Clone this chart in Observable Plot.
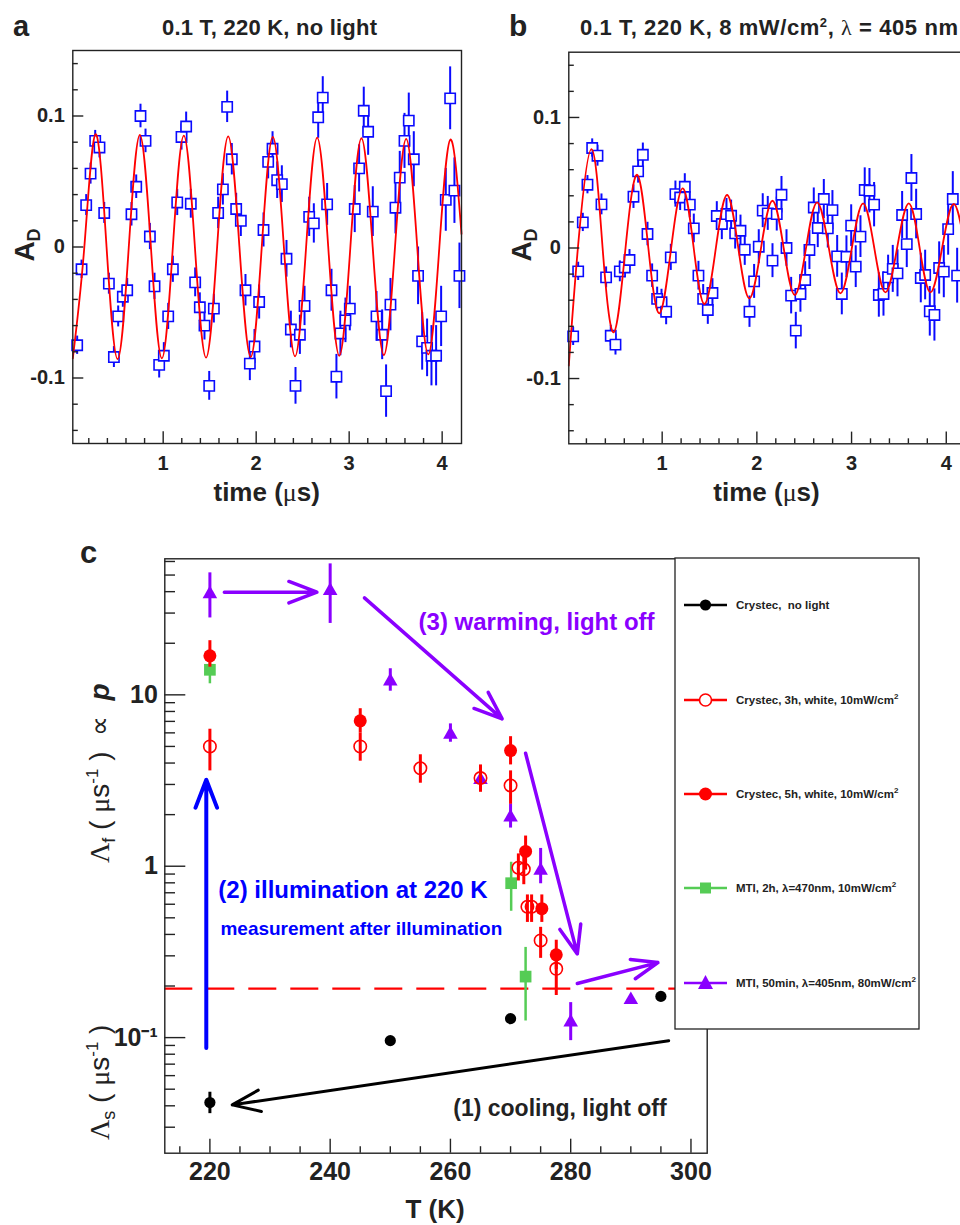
<!DOCTYPE html>
<html><head><meta charset="utf-8">
<script src="https://cdn.jsdelivr.net/npm/d3@7"></script>
<script src="https://cdn.jsdelivr.net/npm/@observablehq/plot@0.6"></script>
<style>
html,body{margin:0;padding:0;background:#fff;overflow:hidden;}
#root{position:relative;width:960px;height:1225px;overflow:hidden;}
#root > svg, #root > figure{position:absolute;margin:0;}
</style></head><body><div id="root"></div>
<script>
// ---------------- Panel a: 0.1 T, 220 K, no light ----------------
const timeA = [0.075,0.122,0.172,0.219,0.269,0.315,0.366,0.416,0.470,0.516,0.566,0.613,0.659,0.710,0.756,0.810,0.857,0.907,0.957,1.007,1.054,1.104,1.151,1.197,1.247,1.297,1.344,1.394,1.444,1.495,1.545,1.591,1.642,1.688,1.738,1.785,1.835,1.885,1.932,1.982,2.032,2.079,2.129,2.176,2.226,2.276,2.326,2.373,2.423,2.470,2.520,2.570,2.620,2.667,2.716,2.763,2.810,2.863,2.906,2.960,3.007,3.060,3.107,3.157,3.204,3.254,3.294,3.355,3.397,3.444,3.498,3.544,3.595,3.641,3.695,3.741,3.785,3.838,3.885,3.935,3.989,4.039,4.086,4.132,4.186];
const asymA = [-0.075,-0.017,0.032,0.056,0.081,0.076,0.026,-0.028,-0.084,-0.053,-0.038,-0.033,0.025,0.046,0.100,0.081,0.008,-0.030,-0.090,-0.083,-0.053,-0.017,0.034,0.084,0.092,0.033,-0.027,-0.046,-0.060,-0.106,-0.047,0.026,0.044,0.107,0.067,0.029,0.020,-0.033,-0.089,-0.076,-0.042,0.013,0.065,0.075,0.051,0.048,-0.009,-0.063,-0.106,-0.067,-0.045,0.023,0.018,0.099,0.114,0.0325,-0.033,-0.099,-0.066,-0.056,-0.047,0.029,0.060,0.104,0.088,0.027,-0.053,-0.067,-0.110,-0.044,0.030,0.053,0.081,0.0965,0.067,-0.022,-0.072,-0.077,-0.083,-0.083,-0.053,0.036,0.1135,0.043,-0.022];
const errA = [0.007,0.007,0.008,0.008,0.008,0.008,0.008,0.008,0.008,0.008,0.008,0.009,0.009,0.009,0.009,0.009,0.010,0.010,0.010,0.010,0.010,0.010,0.010,0.010,0.011,0.011,0.011,0.011,0.011,0.011,0.011,0.012,0.012,0.012,0.012,0.012,0.012,0.012,0.013,0.013,0.013,0.013,0.013,0.013,0.014,0.014,0.014,0.014,0.014,0.015,0.015,0.015,0.015,0.016,0.016,0.016,0.016,0.017,0.017,0.017,0.017,0.018,0.018,0.018,0.018,0.019,0.019,0.019,0.020,0.020,0.020,0.020,0.021,0.021,0.021,0.022,0.022,0.022,0.023,0.023,0.023,0.024,0.024,0.025,0.025];
const fitTimeA = [0.028,0.152,0.272,0.391,0.510,0.630,0.749,0.868,0.986,1.104,1.222,1.341,1.461,1.580,1.699,1.820,1.941,2.060,2.179,2.298,2.418,2.537,2.656,2.775,2.894,3.013,3.132,3.253,3.373,3.493,3.613,3.732,3.851,3.970,4.089,4.208];
const fitAsymA = [-0.085,0,0.086,0,-0.0855,0,0.0855,0,-0.085,0,0.085,0,-0.0845,0,0.0845,0,-0.084,0,0.084,0,-0.0835,0,0.0835,0,-0.083,0,0.083,0,-0.0825,0,0.0825,0,-0.082,0,0.082,0.01];

// ---------------- Panel b: 0.1 T, 220 K, 8 mW/cm2, 405 nm ----------------
const timeB = [0.060,0.113,0.162,0.211,0.261,0.317,0.359,0.408,0.457,0.507,0.553,0.605,0.655,0.697,0.746,0.796,0.845,0.894,0.947,0.993,1.042,1.091,1.140,1.190,1.239,1.292,1.334,1.383,1.433,1.482,1.531,1.577,1.630,1.679,1.728,1.771,1.827,1.872,1.922,1.971,2.020,2.062,2.115,2.165,2.210,2.260,2.313,2.362,2.411,2.460,2.510,2.555,2.601,2.643,2.707,2.749,2.798,2.848,2.897,2.946,2.996,3.044,3.094,3.139,3.189,3.238,3.288,3.337,3.386,3.435,3.485,3.534,3.583,3.632,3.682,3.731,3.777,3.826,3.875,3.925,3.974,4.020,4.069,4.115];
const asymB = [-0.0677,-0.0179,0.0196,0.0485,0.0766,0.0707,0.0334,-0.0225,-0.0672,-0.074,-0.0179,-0.0149,-0.0092,0.0393,0.0587,0.0714,0.0107,-0.0212,-0.039,-0.0416,-0.0488,-0.0072,0.0413,0.0387,0.0469,0.0332,0.015,-0.0212,-0.039,-0.0475,-0.0345,0.0245,0.0184,0.026,0.0247,0.0112,0.0132,-0.0013,-0.0488,-0.0256,0.001,0.0286,0.0265,-0.0097,0.026,0.0408,0.0,-0.0365,-0.0633,-0.0352,-0.0245,-0.0015,0.031,0.0153,0.0375,0.015,0.029,-0.0064,-0.0352,-0.0067,0.0171,-0.0143,0.0087,0.0444,0.0439,0.0332,-0.036,-0.0352,-0.0225,-0.016,-0.0194,0.0253,0.003,0.0536,0.026,-0.023,-0.0207,-0.0485,-0.0513,-0.0153,-0.0181,0.0145,0.0375,-0.0212];
const errB = [0.007,0.007,0.007,0.007,0.007,0.008,0.008,0.008,0.008,0.008,0.008,0.008,0.008,0.009,0.009,0.009,0.009,0.009,0.009,0.010,0.010,0.010,0.010,0.010,0.010,0.010,0.011,0.011,0.011,0.011,0.011,0.011,0.012,0.012,0.012,0.012,0.012,0.012,0.012,0.013,0.013,0.013,0.013,0.013,0.013,0.014,0.014,0.014,0.014,0.014,0.014,0.015,0.015,0.015,0.015,0.015,0.015,0.016,0.016,0.016,0.016,0.016,0.016,0.017,0.017,0.017,0.017,0.017,0.017,0.018,0.018,0.018,0.018,0.018,0.019,0.019,0.019,0.019,0.020,0.020,0.020,0.020,0.021,0.021];
const fitTimeB = [0.014,0.110,0.253,0.371,0.489,0.613,0.736,0.854,0.971,1.095,1.218,1.333,1.447,1.567,1.686,1.804,1.922,2.044,2.165,2.283,2.401,2.519,2.637,2.760,2.883,3.003,3.122,3.240,3.358,3.481,3.604,3.719,3.833,3.956,4.079,4.200];
const fitAsymB = [-0.090,0,0.0758,0,-0.0646,0,0.0561,0,-0.050,0,0.0457,0,-0.0429,0,0.0406,0,-0.0386,0,0.0362,0,-0.036,0,0.0349,0,-0.0347,0,0.0342,0,-0.034,0,0.0342,0,-0.034,0,0.0337,0];

const oscYMajor = [-0.1, 0, 0.1];
const oscYMinor = [-0.14,-0.12,-0.08,-0.06,-0.04,-0.02,0.02,0.04,0.06,0.08,0.12,0.14];
const oscXMajor = [1, 2, 3, 4];
const oscXMinor = [0.2,0.4,0.6,0.8,1.2,1.4,1.6,1.8,2.2,2.4,2.6,2.8,3.2,3.4,3.6,3.8];

// ---------------- Panel c: relaxation rates vs T ----------------
const seriesNames = ["Crystec,  no light","Crystec, 3h, white, 10mW/cm","Crystec, 5h, white, 10mW/cm","MTI, 2h, λ=470nm, 10mW/cm","MTI, 50min, λ=405nm, 80mW/cm"];
const seriesColors = ["#000000","#ff0000","#ff0000","#55cc55","#8a00ff"];

const tNoLight = [220, 250, 270, 295];
const rNoLight = [0.0418, 0.096, 0.129, 0.174];
const loNoLight = [0.036, 0.096, 0.129, 0.174];
const hiNoLight = [0.048, 0.096, 0.129, 0.174];

const t3h = [220, 245, 255, 265, 270, 271.3, 272.2, 272.8, 273.5, 275, 277.6];
const r3h = [5.0, 5.0, 3.73, 3.27, 2.96, 0.98, 0.96, 0.58, 0.58, 0.369, 0.252];
const lo3h = [3.6, 4.1, 3.05, 2.7, 2.3, 0.82, 0.78, 0.47, 0.47, 0.29, 0.176];
const hi3h = [6.3, 6.0, 4.47, 3.9, 3.6, 1.18, 1.16, 0.68, 0.68, 0.44, 0.30];

const t5h = [220, 245, 270, 272.5, 275.2, 277.6];
const r5h = [16.9, 7.05, 4.73, 1.22, 0.565, 0.304];
const lo5h = [14.5, 6.0, 3.9, 0.95, 0.47, 0.25];
const hi5h = [20.7, 8.3, 5.7, 1.5, 0.68, 0.37];

const t470 = [220, 270.1, 272.5];
const r470 = [14.0, 0.796, 0.227];
const lo470 = [11.6, 0.546, 0.125];
const hi470 = [16.4, 1.055, 0.336];

const t405 = [220, 240, 250, 260, 265, 270, 275, 280, 290];
const r405 = [38.8, 40.5, 12.0, 5.87, 3.19, 1.93, 0.944, 0.123, 0.166];
const lo405 = [28.1, 26.1, 10.5, 5.29, 2.8, 1.67, 0.79, 0.096, 0.166];
const hi405 = [51.5, 58.1, 14.2, 6.77, 3.7, 2.31, 1.27, 0.16, 0.166];

const thresholdRate = 0.193;

const rateYMajor = [0.1, 1, 10];
const rateYMinor = [0.03,0.04,0.05,0.06,0.07,0.08,0.09,0.2,0.3,0.4,0.5,0.6,0.7,0.8,0.9,2,3,4,5,6,7,8,9,20,30,40,50,60];
const tempXMajor = [220, 240, 260, 280, 300];
const tempXMinor = [215,225,230,235,245,250,255,265,270,275,285,290,295];

// annotation arrows (data coordinates: T, rate)
const arrowT1 = [296.3, 219.4, 222.4, 245.7, 272.5, 281.1];
const arrowR1 = [0.096, 0.087, 39.7, 36.8, 4.56, 0.207];
const arrowT2 = [223.7, 219.4, 237.8, 268.6, 281.1, 294.5];
const arrowR2 = [0.0405, 3.2, 39.7, 7.24, 0.308, 0.274];
const arrowColors = ["#000000", "#0000ff", "#8a00ff", "#8a00ff", "#8a00ff", "#8a00ff"];
const arrowWidths = [3, 4, 3.5, 3.5, 3.5, 3.5];

const noteText = ["(3) warming, light off", "(2) illumination at 220 K", "measurement after illumination", "(1) cooling, light off"];
const noteT = [254.7, 221.4, 221.75, 295.95];
const noteR = [26.5, 0.721, 0.433, 0.0386];
const noteColor = ["#8a00ff", "#0000ff", "#0000ff", "#222222"];
const noteSize = [24, 24, 19, 23];
const noteAnchor = ["start", "start", "start", "end"];

// ---------------- drawing ----------------
const FONT = '"Liberation Sans", Arial, Helvetica, sans-serif';
const INK = "#222";
const BLUE = "#0a0aff";
const root = document.getElementById("root");

function oscPanel(o) {
  const fw = o.width - o.ml - o.mr, fh = o.height - o.mt - o.mb;
  const pts = o.t.map((d, i) => ({t: d, a: o.a[i], e: o.e[i]}));
  const fit = o.ft.map((d, i) => ({t: d, a: o.fa[i]}));
  const svg = Plot.plot({
    width: o.width, height: o.height,
    marginLeft: o.ml, marginRight: o.mr, marginTop: o.mt, marginBottom: o.mb,
    x: {domain: o.xdom, label: null},
    y: {domain: [-0.15, 0.15], label: null},
    style: {fontFamily: FONT, color: INK, background: "transparent", overflow: "visible"},
    marks: [
      Plot.ruleX(pts, {x: "t", y1: d => d.a - d.e, y2: d => d.a + d.e, stroke: BLUE, strokeWidth: 2}),
      Plot.dot(pts, {x: "t", y: "a", symbol: "square", r: 5.8, fill: "white", stroke: BLUE, strokeWidth: 1.6}),
      Plot.line(fit, {x: "t", y: "a", curve: "natural", stroke: "#ff0000", strokeWidth: 1.8}),
      Plot.frame({stroke: INK, strokeWidth: 1.4}),
      Plot.tickY(oscYMajor, {y: d => d, insetRight: fw - 11, stroke: INK, strokeWidth: 1.4}),
      Plot.tickY(oscYMinor, {y: d => d, insetRight: fw - 5.5, stroke: INK, strokeWidth: 1.4}),
      Plot.tickX(oscXMajor, {x: d => d, insetTop: fh - 11.7, stroke: INK, strokeWidth: 1.4}),
      Plot.tickX(oscXMinor, {x: d => d, insetTop: fh - 5, stroke: INK, strokeWidth: 1.4}),
      Plot.axisY(oscYMajor, {tickSize: 0, tickPadding: 8, fontSize: 20, fontWeight: "bold", fill: INK, label: null,
        tickFormat: d => d === 0 ? "0" : d.toFixed(1)}),
      Plot.axisX(oscXMajor, {tickSize: 0, tickPadding: 12, fontSize: 20, fontWeight: "bold", fill: INK, label: null,
        tickFormat: d => String(d)})
    ]
  });
  svg.style.left = o.left + "px"; svg.style.top = o.top + "px";
  root.appendChild(svg);
}

oscPanel({t: timeA, a: asymA, e: errA, ft: fitTimeA, fa: fitAsymA, xdom: [0.028, 4.208],
  width: 480, height: 510, ml: 72.3, mr: 19, mt: 50, mb: 67, left: 0, top: 0});
oscPanel({t: timeB, a: asymB, e: errB, ft: fitTimeB, fa: fitAsymB, xdom: [0.014, 4.2],
  width: 490, height: 510, ml: 88.3, mr: 5.3, mt: 51.7, mb: 66.7, left: 480, top: 0});

// panel c
const series = [
  {t: t405, r: r405, lo: lo405, hi: hi405, color: seriesColors[4], symbol: "triangle", rr: 5.4, fill: seriesColors[4], sw: 3},
  {t: t470, r: r470, lo: lo470, hi: hi470, color: seriesColors[3], symbol: "square", rr: 6.6, fill: seriesColors[3], sw: 2.5},
  {t: t3h, r: r3h, lo: lo3h, hi: hi3h, color: seriesColors[1], symbol: "circle", rr: 6.2, fill: "none", sw: 3},
  {t: t5h, r: r5h, lo: lo5h, hi: hi5h, color: seriesColors[2], symbol: "circle", rr: 6.5, fill: seriesColors[2], sw: 3},
  {t: tNoLight, r: rNoLight, lo: loNoLight, hi: hiNoLight, color: seriesColors[0], symbol: "circle", rr: 5.6, fill: seriesColors[0], sw: 3}
];
const cW = 720, cH = 695, cml = 164.3, cmr = 13.3, cmt = 28.3, cmb = 72.3;
const cfw = cW - cml - cmr, cfh = cH - cmt - cmb;
const cMarks = [
  Plot.ruleY([thresholdRate], {stroke: "#ff0000", strokeWidth: 2.2, strokeDasharray: "28,14"})
];
for (const s of series) {
  const rows = s.t.map((d, i) => ({t: d, r: s.r[i], lo: s.lo[i], hi: s.hi[i]}));
  cMarks.push(Plot.ruleX(rows.filter(d => d.hi > d.lo), {x: "t", y1: "lo", y2: "hi", stroke: s.color, strokeWidth: s.sw}));
  cMarks.push(Plot.dot(rows, {x: "t", y: "r", symbol: s.symbol, r: s.rr, fill: s.fill, stroke: s.color,
    strokeWidth: s.fill === "none" ? 1.6 : 0}));
}
const arrows = arrowT1.map((d, i) => ({x1: d, y1: arrowR1[i], x2: arrowT2[i], y2: arrowR2[i], c: arrowColors[i], w: arrowWidths[i]}));
for (const a of arrows) {
  // Plot scales the head by the stroke width; aim for ~20px wings
  cMarks.push(Plot.arrow([a], {x1: "x1", y1: "y1", x2: "x2", y2: "y2", stroke: a.c, strokeWidth: a.w,
    headLength: 45 / a.w, headAngle: 42}));
}
noteText.forEach((txt, i) => {
  cMarks.push(Plot.text([txt], {x: noteT[i], y: noteR[i], text: d => d, fill: noteColor[i], fontSize: noteSize[i],
    fontWeight: "bold", textAnchor: noteAnchor[i], lineAnchor: "middle"}));
});
cMarks.push(
  Plot.frame({stroke: INK, strokeWidth: 1.4}),
  Plot.tickY(rateYMajor, {y: d => d, insetRight: cfw - 21, stroke: INK, strokeWidth: 1.4}),
  Plot.tickY(rateYMinor, {y: d => d, insetRight: cfw - 10.7, stroke: INK, strokeWidth: 1.4}),
  Plot.tickX(tempXMajor, {x: d => d, insetTop: cfh - 14, stroke: INK, strokeWidth: 1.4}),
  Plot.tickX(tempXMinor, {x: d => d, insetTop: cfh - 6.5, stroke: INK, strokeWidth: 1.4}),
  Plot.axisY(rateYMajor, {tickSize: 0, tickPadding: 7, fontSize: 25, fontWeight: "bold", fill: INK, label: null,
    tickFormat: d => d === 0.1 ? "10⁻¹" : String(d)}),
  Plot.axisX(tempXMajor, {tickSize: 0, tickPadding: 9, fontSize: 25, fontWeight: "bold", fill: INK, label: null,
    tickFormat: d => String(d)})
);
const cSvg = Plot.plot({
  width: cW, height: cH, marginLeft: cml, marginRight: cmr, marginTop: cmt, marginBottom: cmb,
  x: {domain: [212.5, 302.7], label: null},
  y: {type: "log", domain: [0.02116, 62.2], label: null},
  style: {fontFamily: FONT, color: INK, background: "transparent", overflow: "visible"},
  marks: cMarks
});
cSvg.style.left = "0px"; cSvg.style.top = "530px";
root.appendChild(cSvg);

// ---------------- overlay: titles, axis titles, legend ----------------
const legendY = [605, 700, 794, 888, 983];
function legendSymbol(i, cx, cy) {
  const c = seriesColors[i];
  if (i === 0) return `<circle cx="${cx}" cy="${cy}" r="5.6" fill="${c}"/>`;
  if (i === 1) return `<circle cx="${cx}" cy="${cy}" r="6" fill="white" stroke="${c}" stroke-width="1.6"/>`;
  if (i === 2) return `<circle cx="${cx}" cy="${cy}" r="6.5" fill="${c}"/>`;
  if (i === 3) return `<rect x="${cx-5.5}" y="${cy-5.5}" width="11" height="11" fill="${c}"/>`;
  return `<path d="M${cx},${cy-8} L${cx+7.5},${cy+6} L${cx-7.5},${cy+6} Z" fill="${c}"/>`;
}
let legend = `<rect x="675" y="558" width="244" height="471" fill="white" stroke="${INK}" stroke-width="1.3"/>`;
seriesNames.forEach((name, i) => {
  const y = legendY[i];
  legend += `<line x1="684" x2="727" y1="${y}" y2="${y}" stroke="${seriesColors[i]}" stroke-width="2.5"/>`;
  legend += legendSymbol(i, 705.5, y);
  const sup = i === 0 ? "" : `<tspan dy="-5" font-size="8">2</tspan>`;
  legend += `<text x="736" y="${y + 4}" font-size="11.5" font-weight="bold" fill="${INK}" xml:space="preserve">${name}${sup}</text>`;
});

const overlay = `
<svg xmlns="http://www.w3.org/2000/svg" width="960" height="1225" style="left:0;top:0" font-family="Liberation Sans, Arial, sans-serif" fill="${INK}">
  <text x="13" y="36" font-size="29" font-weight="bold">a</text>
  <text x="509" y="36" font-size="30" font-weight="bold">b</text>
  <text x="80" y="563" font-size="31" font-weight="bold">c</text>
  <text x="162" y="35" font-size="22" font-weight="bold" textLength="215" lengthAdjust="spacing">0.1 T, 220 K, no light</text>
  <text x="580" y="35" font-size="22" font-weight="bold" textLength="378" lengthAdjust="spacing">0.1 T, 220 K, 8 mW/cm<tspan dy="-8" font-size="13">2</tspan><tspan dy="8">, </tspan><tspan font-family="Liberation Serif, serif" font-weight="normal">λ</tspan> = 405 nm</text>
  <text transform="translate(34,245) rotate(-90)" text-anchor="middle" font-size="28" font-weight="bold">A<tspan dy="6" font-size="18">D</tspan></text>
  <text transform="translate(531,245) rotate(-90)" text-anchor="middle" font-size="28" font-weight="bold">A<tspan dy="6" font-size="18">D</tspan></text>
  <text x="266.7" y="501" text-anchor="middle" font-size="26" font-weight="bold">time (<tspan font-family="Liberation Serif, serif" font-weight="normal">μ</tspan>s)</text>
  <text x="766.5" y="501" text-anchor="middle" font-size="26" font-weight="bold">time (<tspan font-family="Liberation Serif, serif" font-weight="normal">μ</tspan>s)</text>
  <text x="435" y="1218" text-anchor="middle" font-size="26" font-weight="bold">T (K)</text>
  <text transform="translate(109,863) rotate(-90)" font-size="28" xml:space="preserve"><tspan font-family="Liberation Serif, serif">Λ</tspan><tspan font-size="18" dy="6">f</tspan><tspan dy="-6"> ( </tspan><tspan font-family="Liberation Serif, serif">μ</tspan>s<tspan font-size="17" dy="-11">-1</tspan><tspan dy="11"> )  ∝  </tspan><tspan font-weight="bold" font-style="italic">p</tspan></text>
  <text transform="translate(109,1140) rotate(-90)" font-size="28" xml:space="preserve"><tspan font-family="Liberation Serif, serif">Λ</tspan><tspan font-size="18" dy="6">s</tspan><tspan dy="-6"> ( </tspan><tspan font-family="Liberation Serif, serif">μ</tspan>s<tspan font-size="17" dy="-11">-1</tspan><tspan dy="11"> )</tspan></text>
  ${legend}
</svg>`;
root.insertAdjacentHTML("beforeend", overlay);
</script></body></html>
